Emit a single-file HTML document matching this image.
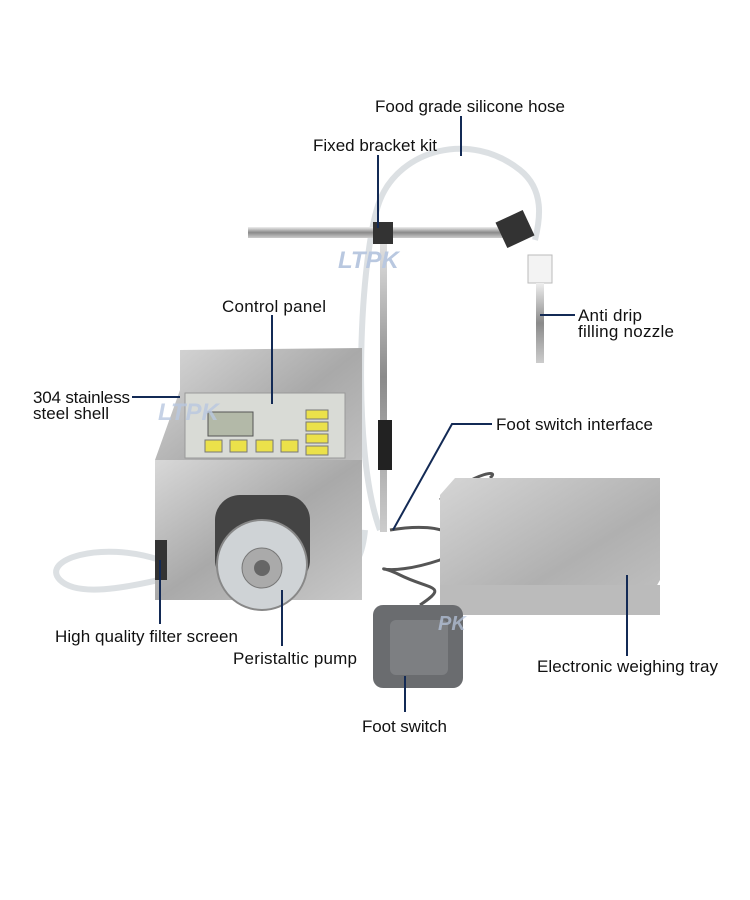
<!DOCTYPE html>
<html><head><meta charset="utf-8"><style>
body{margin:0;width:750px;height:900px;background:#fff;overflow:hidden;font-family:"Liberation Sans","Noto Sans CJK SC",sans-serif}
svg{position:absolute;left:0;top:0}
</style></head><body>
<svg width="750" height="900" viewBox="0 0 750 900">
<defs>
<linearGradient id="st" x1="0" y1="0" x2="1" y2="1"><stop offset="0" stop-color="#d8d8d8"/><stop offset=".5" stop-color="#a9a9a9"/><stop offset="1" stop-color="#c8c8c8"/></linearGradient>
<linearGradient id="tray" x1="0" y1="0" x2="1" y2="1"><stop offset="0" stop-color="#d5d5d5"/><stop offset=".6" stop-color="#b0b0b0"/><stop offset="1" stop-color="#c2c2c2"/></linearGradient>
<linearGradient id="rod" x1="0" y1="0" x2="0" y2="1"><stop offset="0" stop-color="#eee"/><stop offset=".5" stop-color="#8a8a8a"/><stop offset="1" stop-color="#ccc"/></linearGradient>
</defs>
<g fill="none" stroke="#d8dde0" stroke-width="6" opacity=".9">
<path d="M380 530 C350 450 360 250 380 200 C400 150 470 130 520 170 C545 190 540 220 535 240"/>
<path d="M160 560 C100 540 40 560 60 580 C80 600 140 585 200 570"/>
<path d="M365 530 C360 580 340 570 320 560"/>
</g>
<g fill="none" stroke="#555" stroke-width="3">
<path d="M390 530 C450 520 470 540 440 560 C380 580 370 560 400 575 C430 590 450 585 420 605"/>
<path d="M440 500 C480 470 500 470 490 478"/>
</g>
<rect x="248" y="227" width="265" height="11" fill="url(#rod)"/>
<rect x="380" y="222" width="7" height="310" fill="url(#rod)"/>
<rect x="373" y="222" width="20" height="22" fill="#333"/>
<rect x="500" y="215" width="30" height="28" fill="#333" transform="rotate(-25 515 229)"/>
<rect x="528" y="255" width="24" height="28" fill="#f3f3f3" stroke="#bbb"/>
<rect x="536" y="283" width="8" height="80" fill="url(#rod)"/>
<text x="338" y="268" font-size="24" font-weight="bold" font-style="italic" fill="#b9c8e0">LTPK</text>
<polygon points="180,350 362,348 362,510 155,510 155,460 180,390" fill="url(#st)"/>
<rect x="155" y="460" width="207" height="140" fill="url(#st)"/>
<rect x="185" y="393" width="160" height="65" fill="#d9dbd6" stroke="#999"/>
<rect x="208" y="412" width="45" height="24" fill="#b3b9a8" stroke="#555"/>
<g fill="#ebe14a" stroke="#777"><rect x="205" y="440" width="17" height="12"/><rect x="230" y="440" width="17" height="12"/><rect x="256" y="440" width="17" height="12"/><rect x="281" y="440" width="17" height="12"/>
<rect x="306" y="410" width="22" height="9"/><rect x="306" y="422" width="22" height="9"/><rect x="306" y="434" width="22" height="9"/><rect x="306" y="446" width="22" height="9"/></g>
<text x="158" y="420" font-size="24" font-weight="bold" font-style="italic" fill="#b9c8e0" opacity=".8">LTPK</text>
<rect x="378" y="420" width="14" height="50" fill="#222"/>
<rect x="155" y="540" width="12" height="40" fill="#333"/>
<rect x="215" y="495" width="95" height="90" rx="25" fill="#444"/>
<circle cx="262" cy="565" r="45" fill="#cfd3d6" stroke="#888" stroke-width="2"/>
<circle cx="262" cy="568" r="20" fill="#aaa" stroke="#777"/>
<circle cx="262" cy="568" r="8" fill="#666"/>
<polygon points="455,478 660,478 660,580 640,615 440,615 440,495" fill="url(#tray)"/>
<rect x="440" y="585" width="220" height="30" fill="#bbb"/>
<rect x="373" y="605" width="90" height="83" rx="10" fill="#6a6c6f"/>
<rect x="390" y="620" width="58" height="55" rx="6" fill="#7d7f82"/>
<text x="438" y="630" font-size="20" font-weight="bold" font-style="italic" fill="#b9c8e0" opacity=".7">PK</text>
<g stroke="#132a55" stroke-width="2" fill="none">
<line x1="461" y1="116" x2="461" y2="156"/>
<line x1="378" y1="155" x2="378" y2="228"/>
<line x1="272" y1="315" x2="272" y2="404"/>
<line x1="132" y1="397" x2="180" y2="397"/>
<line x1="540" y1="315" x2="575" y2="315"/>
<polyline points="492,424 452,424 393,530"/>
<line x1="160" y1="560" x2="160" y2="624"/>
<line x1="282" y1="590" x2="282" y2="646"/>
<line x1="627" y1="575" x2="627" y2="656"/>
<line x1="405" y1="676" x2="405" y2="712"/>
</g>
<g font-size="17" fill="#111">
<text x="375" y="112" textLength="190">Food grade silicone hose</text>
<text x="313" y="151" textLength="124">Fixed bracket kit</text>
<text x="222" y="312" textLength="104">Control panel</text>
<text x="33" y="403" textLength="97">304 stainless</text>
<text x="33" y="419" textLength="76">steel shell</text>
<text x="578" y="321" textLength="64">Anti drip</text>
<text x="578" y="337" textLength="96">filling nozzle</text>
<text x="496" y="430" textLength="157">Foot switch interface</text>
<text x="55" y="642" textLength="183">High quality filter screen</text>
<text x="233" y="664" textLength="124">Peristaltic pump</text>
<text x="537" y="672" textLength="181">Electronic weighing tray</text>
<text x="362" y="732" textLength="85">Foot switch</text>
</g>
</svg>
</body></html>
